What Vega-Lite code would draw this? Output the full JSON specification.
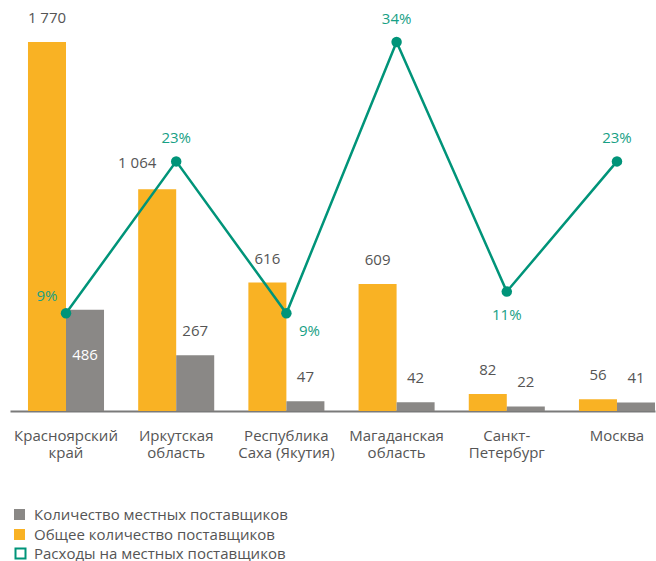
{
  "$schema": "https://vega.github.io/schema/vega-lite/v6.json",
  "autosize": "none",
  "width": 645,
  "height": 369,
  "padding": {"left": 10, "top": 42, "right": 1, "bottom": 150},
  "config": {
    "view": {"stroke": null},
    "font": "Open Sans",
    "locale": {"number": {"decimal": ",", "thousands": " ", "grouping": [3], "currency": ["", " ₽"]}},
    "legend": {
      "title": null, "orient": "none", "direction": "vertical", "symbolType": "square",
      "symbolSize": 121, "labelFontSize": 15, "labelColor": "#555555", "labelOffset": 7,
      "rowPadding": 4, "labelLimit": 500, "symbolStrokeWidth": 2
    }
  },
  "data": {
    "values": [
      {"region": "Красноярский край", "total": 1770, "local": 486, "pct": 0.09},
      {"region": "Иркутская область", "total": 1064, "local": 267, "pct": 0.23},
      {"region": "Республика Саха (Якутия)", "total": 616, "local": 47, "pct": 0.09},
      {"region": "Магаданская область", "total": 609, "local": 42, "pct": 0.34},
      {"region": "Санкт-Петербург", "total": 82, "local": 22, "pct": 0.11},
      {"region": "Москва", "total": 56, "local": 41, "pct": 0.23}
    ]
  },
  "encoding": {
    "x": {
      "field": "region", "type": "nominal", "sort": null,
      "scale": {"paddingInner": 0.31, "paddingOuter": 0.0816, "align": 1},
      "axis": {
        "title": null, "ticks": false, "domainColor": "#7a7a7a", "domainWidth": 2,
        "labelAngle": 0, "labelFontSize": 15, "labelColor": "#555555", "labelPadding": 24,
        "labelLineHeight": 17, "labelBaseline": "middle",
        "labelExpr": "datum.label == 'Санкт-Петербург' ? ['Санкт-', 'Петербург'] : indexof(datum.label, ' ') > 0 ? [slice(datum.label, 0, indexof(datum.label, ' ')), slice(datum.label, indexof(datum.label, ' ') + 1)] : datum.label"
      }
    }
  },
  "layer": [
    {
      "transform": [{"fold": ["total", "local"], "as": ["series", "count"]}],
      "encoding": {
        "xOffset": {"field": "series", "type": "nominal", "scale": {"domain": ["total", "local"], "paddingInner": 0, "paddingOuter": 0}},
        "y": {"field": "count", "type": "quantitative", "scale": {"domain": [0, 1770], "nice": false, "zero": true}, "axis": null}
      },
      "layer": [
        {
          "mark": {"type": "bar"},
          "encoding": {
            "color": {
              "field": "series", "type": "nominal",
              "scale": {"domain": ["local", "total"], "range": ["#8A8886", "#F9B224"]},
              "legend": {
                "legendX": 2, "legendY": 465,
                "labelExpr": "datum.label == 'local' ? 'Количество местных поставщиков' : 'Общее количество поставщиков'"
              }
            }
          }
        },
        {
          "transform": [{"filter": "datum.series == 'total' && datum.region != 'Иркутская область'"}],
          "mark": {"type": "text", "baseline": "middle", "dy": -24, "fontSize": 15, "color": "#555555"},
          "encoding": {"text": {"field": "count", "type": "quantitative", "format": ",d"}}
        },
        {
          "transform": [{"filter": "datum.series == 'total' && datum.region == 'Иркутская область'"}],
          "mark": {"type": "text", "baseline": "middle", "dy": -26, "dx": -20, "fontSize": 15, "color": "#555555"},
          "encoding": {"text": {"field": "count", "type": "quantitative", "format": ",d"}}
        },
        {
          "transform": [{"filter": "datum.series == 'local' && datum.region != 'Красноярский край'"}],
          "mark": {"type": "text", "baseline": "middle", "dy": -24, "fontSize": 15, "color": "#555555"},
          "encoding": {"text": {"field": "count", "type": "quantitative", "format": ",d"}}
        },
        {
          "transform": [{"filter": "datum.series == 'local' && datum.region == 'Красноярский край'"}],
          "mark": {"type": "text", "baseline": "middle", "dy": 45, "fontSize": 15, "color": "#ffffff"},
          "encoding": {"text": {"field": "count", "type": "quantitative", "format": ",d"}}
        }
      ]
    },
    {
      "encoding": {
        "y": {"field": "pct", "type": "quantitative", "scale": {"domain": [0, 0.34], "nice": false, "zero": true}, "axis": null}
      },
      "layer": [
        {
          "mark": {"type": "line", "strokeWidth": 2.5},
          "encoding": {
            "stroke": {
              "datum": "spend", "type": "nominal",
              "scale": {"domain": ["spend"], "range": ["#009479"]},
              "legend": {
                "legendX": 3, "legendY": 504, "symbolSize": 100, "symbolFillColor": "#ffffff",
                "labelOffset": 6,
                "labelExpr": "'Расходы на местных поставщиков'"
              }
            }
          }
        },
        {
          "mark": {"type": "point", "filled": true, "size": 110, "opacity": 1, "color": "#009479"},
          "encoding": {}
        },
        {
          "transform": [{"filter": "datum.region == 'Иркутская область' || datum.region == 'Магаданская область' || datum.region == 'Москва'"}],
          "mark": {"type": "text", "baseline": "middle", "dy": -23, "fontSize": 15, "color": "#17a085"},
          "encoding": {"text": {"field": "pct", "type": "quantitative", "format": ".0%"}}
        },
        {
          "transform": [{"filter": "datum.region == 'Красноярский край'"}],
          "mark": {"type": "text", "baseline": "middle", "dx": -19, "dy": -17, "fontSize": 15, "color": "#17a085"},
          "encoding": {"text": {"field": "pct", "type": "quantitative", "format": ".0%"}}
        },
        {
          "transform": [{"filter": "datum.region == 'Республика Саха (Якутия)'"}],
          "mark": {"type": "text", "baseline": "middle", "dx": 23, "dy": 18, "fontSize": 15, "color": "#17a085"},
          "encoding": {"text": {"field": "pct", "type": "quantitative", "format": ".0%"}}
        },
        {
          "transform": [{"filter": "datum.region == 'Санкт-Петербург'"}],
          "mark": {"type": "text", "baseline": "middle", "dy": 23, "fontSize": 15, "color": "#17a085"},
          "encoding": {"text": {"field": "pct", "type": "quantitative", "format": ".0%"}}
        }
      ]
    }
  ],
  "resolve": {"scale": {"y": "independent"}}
}
